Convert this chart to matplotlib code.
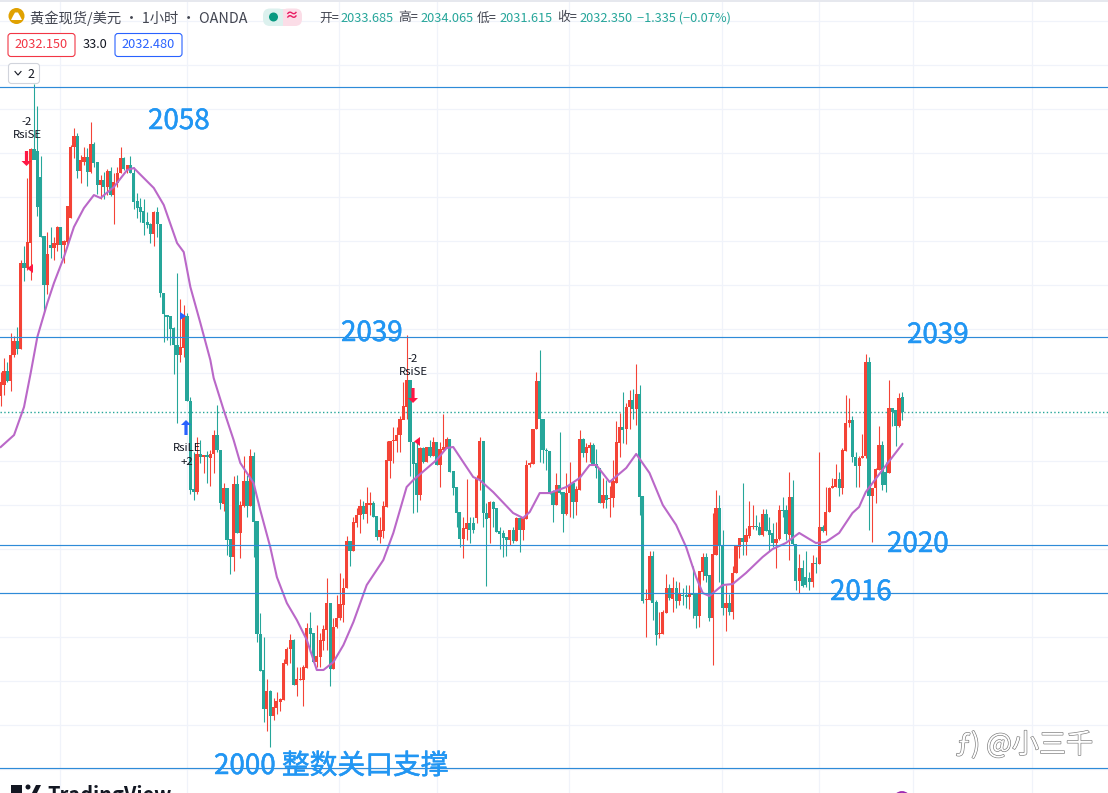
import matplotlib
matplotlib.use("Agg")
import matplotlib.pyplot as plt
import matplotlib.patheffects as pe
from matplotlib.patches import FancyBboxPatch, Circle, Polygon, Rectangle

plt.rcParams['font.family'] = ['Noto Sans CJK SC', 'DejaVu Sans']

opens = [
 2033.75,2034.72,2035.95,2035.07,2037.35,2038.58,2037.88,2045.42,2044.98,2047.17,
 2055.42,2055.24,2052.96,2047.79,2043.49,2047.00,2046.74,2047.00,2048.58,2047.00,
 2047.26,2049.37,2055.59,2056.56,2053.49,2054.28,2054.72,2053.40,2055.86,2054.28,
 2052.26,2052.70,2052.09,2053.49,2051.38,2052.44,2053.32,2054.63,2053.58,2054.02,
 2053.32,2050.86,2050.33,2049.98,2049.02,2048.84,2047.96,2049.89,2048.84,2042.79,
 2040.86,2040.77,2039.72,2038.23,2037.35,2037.97,2040.77,2033.31,2025.59,2025.33,
 2028.67,2028.40,2028.58,2028.32,2028.67,2030.33,2029.02,2024.28,2025.68,2021.21,
 2019.63,2026.03,2021.74,2024.10,2026.30,2024.10,2028.49,2022.79,2012.88,2009.72,
 2006.30,2007.87,2005.68,2006.38,2006.91,2007.09,2010.24,2011.56,2012.35,2008.40,
 2008.84,2008.84,2009.89,2013.40,2012.96,2010.42,2010.86,2012.26,2013.23,2015.59,
 2009.80,2013.49,2014.28,2015.42,2016.91,2021.03,2020.16,2022.61,2023.31,2024.10,
 2023.40,2024.19,2024.37,2023.23,2021.38,2021.91,2024.02,2028.05,2029.80,2029.80,
 2030.33,2031.65,2032.79,2035.16,2029.72,2027.88,2025.07,2029.19,2027.96,2029.28,
 2028.49,2029.72,2027.70,2029.02,2029.19,2029.98,2027.17,2025.77,2023.58,2021.21,
 2022.09,2022.61,2022.61,2023.05,2026.47,2029.80,2023.49,2023.05,2024.46,2023.93,
 2021.91,2021.74,2021.38,2021.12,2022.00,2021.03,2023.05,2022.00,2022.96,2027.70,
 2027.79,2030.86,2035.07,2031.74,2029.02,2028.93,2025.33,2024.19,2025.95,2025.33,
 2023.40,2025.24,2026.12,2024.46,2025.51,2029.98,2028.75,2029.19,2029.45,2027.79,
 2027.44,2024.37,2025.07,2024.72,2024.81,2026.12,2029.63,2031.03,2030.86,2032.79,
 2033.40,2032.61,2033.93,2024.98,2015.86,2015.86,2019.72,2015.68,2012.88,2012.88,
 2014.72,2016.91,2015.95,2016.91,2015.77,2016.30,2016.30,2016.12,2016.47,2016.47,
 2014.45,2018.31,2019.63,2018.05,2014.28,2019.80,2023.93,2020.59,2015.17,2015.59,
 2014.80,2018.23,2020.51,2021.30,2020.95,2021.47,2022.26,2022.35,2022.26,2021.56,
 2023.40,2022.00,2021.74,2020.86,2021.21,2023.75,2023.75,2021.56,2024.90,2020.77,
 2017.52,2018.66,2017.87,2017.79,2017.44,2019.10,2019.01,2022.26,2021.91,2023.58,
 2025.68,2025.77,2026.47,2025.68,2028.93,2031.38,2031.65,2028.40,2027.61,2028.32,
 2028.49,2036.73,2024.98,2025.68,2027.26,2029.45,2027.09,2027.00,2032.70,2032.53,
 2031.12,2033.685]

closes = [
 2034.98,2035.95,2035.07,2037.35,2038.58,2037.88,2045.42,2044.98,2047.26,2055.42,
 2054.45,2050.33,2047.70,2043.49,2046.21,2046.74,2047.17,2048.58,2047.00,2047.35,
 2050.42,2055.59,2056.56,2053.49,2054.45,2054.72,2053.40,2055.86,2054.19,2052.26,
 2052.70,2052.09,2053.49,2051.38,2052.52,2053.32,2054.63,2053.67,2054.02,2053.32,
 2050.77,2050.24,2049.89,2048.93,2048.75,2047.96,2049.89,2048.84,2042.79,2040.95,
 2040.68,2039.63,2038.23,2037.35,2038.05,2040.77,2033.31,2025.51,2025.33,2028.67,
 2028.40,2028.58,2028.40,2028.67,2030.33,2029.02,2024.37,2025.68,2021.12,2019.63,
 2026.03,2021.74,2024.19,2026.30,2024.10,2028.49,2022.70,2012.88,2009.63,2006.30,
 2007.87,2005.68,2006.47,2007.00,2007.17,2010.33,2011.56,2012.35,2008.40,2008.93,
 2008.93,2009.98,2013.40,2012.88,2010.42,2010.94,2012.35,2013.31,2015.59,2009.80,
 2013.49,2014.28,2015.51,2016.91,2021.03,2020.16,2022.70,2023.31,2024.10,2023.40,
 2024.37,2024.37,2023.14,2021.38,2022.00,2024.10,2028.14,2029.80,2029.89,2030.33,
 2031.74,2032.88,2035.16,2029.72,2027.79,2025.07,2029.19,2027.96,2029.28,2028.49,
 2029.72,2027.70,2029.10,2029.28,2029.98,2027.09,2025.68,2023.49,2021.21,2022.17,
 2022.61,2022.00,2022.00,2026.47,2029.80,2023.49,2022.96,2024.46,2023.84,2021.82,
 2021.65,2021.30,2021.12,2022.00,2021.03,2023.05,2022.00,2023.05,2027.70,2027.88,
 2030.86,2035.07,2031.74,2029.02,2028.93,2025.24,2024.19,2025.95,2025.24,2023.40,
 2025.24,2025.95,2024.46,2025.59,2029.98,2028.75,2029.28,2029.45,2027.79,2027.44,
 2024.37,2025.07,2024.63,2024.81,2026.30,2029.72,2031.03,2030.77,2032.79,2033.40,
 2032.61,2033.93,2024.90,2015.77,2015.95,2019.72,2015.59,2012.79,2012.96,2014.80,
 2016.91,2016.03,2016.91,2015.77,2016.47,2016.21,2016.12,2016.38,2016.30,2014.45,
 2018.40,2019.63,2017.96,2014.28,2019.89,2023.93,2020.59,2015.17,2015.59,2014.80,
 2018.23,2020.59,2021.30,2020.95,2021.56,2022.35,2022.35,2022.26,2021.56,2023.40,
 2021.91,2021.56,2020.86,2021.21,2023.75,2023.66,2021.65,2024.90,2020.77,2017.52,
 2018.66,2017.08,2017.17,2017.44,2019.10,2019.01,2022.26,2021.91,2023.58,2025.68,
 2025.86,2026.47,2025.68,2029.02,2031.38,2031.65,2028.40,2027.61,2028.32,2028.49,
 2036.73,2024.98,2025.68,2027.35,2029.45,2025.95,2025.95,2032.70,2032.35,2031.12,
 2033.58,2032.35]

highs = [
 2035.9,2037.1,2036.7,2039.3,2039.0,2039.8,2045.7,2046.9,2052.9,2055.5,
 2061.1,2059.2,2054.8,2047.8,2048.1,2048.6,2047.7,2048.7,2048.6,2047.4,
 2050.4,2055.8,2057.3,2056.8,2054.9,2055.6,2055.5,2057.8,2056.0,2054.3,
 2053.1,2053.4,2053.7,2053.8,2053.3,2053.8,2055.6,2054.7,2054.0,2054.8,
 2053.8,2051.6,2051.1,2051.0,2049.9,2048.9,2050.0,2050.3,2048.8,2042.8,
 2040.9,2040.8,2039.8,2044.5,2042.3,2041.7,2041.0,2033.7,2028.8,2030.2,
 2029.9,2028.6,2028.9,2029.0,2030.8,2033.0,2029.0,2026.1,2025.7,2021.2,
 2026.7,2026.8,2024.5,2028.5,2026.8,2029.1,2028.8,2022.8,2014.7,2012.6,
 2008.9,2008.0,2007.3,2007.8,2007.3,2010.7,2011.7,2012.9,2012.4,2010.0,
 2010.0,2010.2,2013.8,2014.8,2013.0,2013.7,2013.0,2013.7,2017.8,2015.6,
 2014.3,2016.3,2018.2,2017.8,2021.5,2021.0,2023.1,2023.9,2024.7,2024.5,
 2025.8,2025.3,2024.5,2023.2,2023.1,2024.5,2029.8,2029.8,2031.0,2031.0,
 2032.0,2035.0,2039.1,2035.2,2029.7,2029.7,2029.3,2029.3,2029.3,2029.9,
 2030.2,2029.7,2029.7,2032.2,2030.2,2030.0,2027.2,2025.8,2023.6,2023.1,
 2026.5,2023.1,2023.1,2026.8,2030.2,2029.8,2024.4,2024.5,2024.5,2023.9,
 2022.3,2022.0,2021.4,2022.0,2022.3,2023.1,2023.1,2023.1,2028.1,2028.0,
 2030.9,2035.9,2037.8,2031.7,2029.2,2028.9,2025.5,2027.0,2030.6,2025.3,
 2027.0,2028.0,2026.2,2025.9,2030.8,2030.1,2029.6,2029.7,2029.6,2029.1,
 2027.4,2026.6,2026.4,2025.9,2028.1,2031.6,2032.3,2034.1,2033.1,2034.3,
 2034.4,2036.6,2034.7,2025.0,2016.8,2020.2,2020.2,2015.9,2014.8,2015.0,
 2018.1,2017.3,2017.9,2017.5,2017.4,2016.9,2017.2,2017.2,2018.8,2016.5,
 2018.4,2020.0,2020.0,2018.0,2023.5,2025.5,2025.1,2022.0,2017.2,2016.4,
 2018.8,2020.6,2021.3,2026.1,2022.2,2024.5,2024.2,2023.3,2022.7,2023.8,
 2023.8,2023.1,2022.6,2022.7,2024.2,2024.9,2024.2,2027.1,2026.4,2020.8,
 2019.9,2019.4,2020.2,2018.3,2019.8,2019.6,2028.8,2022.4,2025.8,2025.8,
 2026.6,2027.8,2027.1,2029.2,2033.8,2033.6,2032.0,2028.8,2028.5,2030.4,
 2037.4,2037.2,2025.7,2027.4,2031.1,2029.8,2028.0,2035.2,2032.7,2032.5,
 2034.0,2034.065]

lows = [
 2032.9,2033.8,2035.0,2034.2,2037.2,2037.4,2037.9,2043.8,2044.8,2043.9,
 2054.5,2049.5,2047.7,2041.1,2042.7,2045.9,2045.7,2046.5,2045.9,2045.4,
 2047.0,2049.4,2054.6,2052.9,2052.4,2054.0,2052.2,2053.3,2053.8,2051.5,
 2051.0,2051.0,2051.4,2051.3,2048.8,2052.1,2053.3,2053.6,2053.3,2053.3,
 2050.2,2049.4,2049.0,2047.9,2048.5,2047.2,2046.9,2047.7,2042.4,2038.5,
 2038.7,2038.2,2035.7,2031.4,2036.7,2037.2,2033.3,2025.2,2024.6,2025.2,
 2027.9,2027.0,2026.1,2025.9,2027.0,2028.8,2023.8,2023.7,2019.8,2018.1,
 2018.4,2021.7,2019.5,2024.0,2023.1,2024.1,2019.6,2012.2,2009.6,2005.2,
 2004.4,2003.0,2005.3,2005.9,2006.1,2007.1,2010.2,2010.3,2008.4,2007.4,
 2008.8,2006.6,2009.9,2011.3,2010.4,2010.0,2010.0,2011.5,2011.5,2008.3,
 2009.8,2013.4,2014.1,2013.9,2016.9,2018.8,2020.2,2022.3,2021.7,2023.0,
 2022.6,2023.3,2023.1,2021.1,2020.9,2021.3,2024.0,2026.6,2027.9,2028.8,
 2028.8,2031.7,2031.7,2026.7,2023.5,2023.6,2024.6,2027.9,2028.0,2028.4,
 2028.5,2027.7,2025.8,2029.0,2029.2,2027.1,2025.1,2022.3,2020.5,2019.5,
 2021.1,2020.9,2021.7,2022.6,2025.5,2022.3,2017.1,2020.9,2022.3,2021.8,
 2020.3,2019.6,2019.7,2020.7,2020.9,2021.0,2020.1,2021.1,2023.0,2027.5,
 2027.8,2030.9,2028.0,2027.9,2027.3,2025.2,2022.7,2024.2,2025.2,2021.8,
 2023.3,2023.1,2023.05,2023.3,2025.5,2028.4,2028.0,2028.0,2027.7,2026.6,
 2024.4,2023.9,2023.9,2023.1,2024.0,2026.1,2028.4,2029.6,2029.5,2030.9,
 2031.7,2031.2,2023.3,2015.6,2012.6,2015.9,2014.1,2011.9,2012.5,2012.9,
 2014.7,2015.9,2014.8,2015.2,2015.4,2015.4,2015.2,2015.1,2014.3,2013.4,
 2013.5,2017.6,2017.4,2014.0,2010.2,2019.8,2017.4,2014.5,2013.1,2014.5,
 2014.2,2018.2,2019.5,2019.8,2019.8,2021.3,2022.1,2022.0,2021.6,2021.5,
 2021.9,2020.2,2020.5,2018.7,2021.1,2023.1,2021.1,2019.4,2020.7,2016.7,
 2016.5,2017.0,2017.0,2016.7,2017.0,2018.2,2019.0,2021.8,2021.6,2023.6,
 2025.7,2025.8,2025.0,2025.2,2028.9,2031.0,2028.0,2025.8,2025.8,2028.3,
 2028.3,2022.0,2020.95,2024.4,2027.3,2025.5,2025.3,2027.0,2031.1,2029.4,
 2031.0,2031.615]

ma_bar = [0,4,7,9,11,14,16,19,22,25,28,30,34,38,40,46,49,53,55,57,60,63,64,67,70,72,76,78,81,83,
          86,89,92,95,97,100,103,106,110,115,118,122,124,131,134,136,139,142,144,148,154,157,159,
          162,165,170,174,177,179,183,188,191,195,199,203,206,209,211,213,217,220,224,229,232,236,
          240,245,248,252,256,258,260,265,271]
ma_val = [2029.28,2030.33,2032.79,2035.77,2038.93,2041.91,2043.67,2045.95,2048.58,2050.24,2051.38,
          2051.12,2052.09,2053.58,2053.75,2052.00,2050.51,2047.17,2046.38,2043.31,2040.16,2036.91,
          2035.33,2032.53,2029.89,2027.88,2026.12,2023.75,2020.51,2017.87,2015.59,2014.10,2012.35,
          2009.72,2009.72,2010.42,2011.91,2013.93,2017.17,2019.37,2021.74,2025.77,2026.38,2028.14,
          2029.19,2029.28,2027.96,2026.65,2026.38,2025.33,2023.49,2023.05,2023.58,2025.24,2025.24,
          2025.77,2026.56,2027.70,2027.70,2026.21,2027.44,2028.67,2027.00,2024.19,2022.44,2020.51,
          2017.87,2016.47,2016.21,2017.17,2017.26,2018.23,2019.63,2020.33,2020.86,2021.74,2020.86,
          2020.95,2021.74,2023.49,2024.02,2025.33,2027.26,2029.54]

level_lines = [2060.86, 2038.97, 2020.65, 2016.47, 2001.12]
last_close = 2032.35

W, H = 1108, 793
RED, GREEN, BLUE, PURPLE = '#f44336', '#26a69a', '#2196f3', '#ba68c8'
LINE = '#2e8bd8'
BAR_PX, BAR0 = 3.327, 0.74
PX_PER_USD, Y_REF = 11.4, 412.0

fig = plt.figure(figsize=(W/100, H/100), dpi=100, facecolor='white')
ax = fig.add_axes([0, 0, 1, 1])
ax.set_xlim(-BAR0/BAR_PX, (W-BAR0)/BAR_PX)
ax.set_ylim(last_close-(H-Y_REF)/PX_PER_USD, last_close+Y_REF/PX_PER_USD)
ax.axis('off')

ov = fig.add_axes([0, 0, 1, 1], facecolor='none')
ov.set_xlim(0, W); ov.set_ylim(H, 0); ov.axis('off')

# grid
for gx in [60, 186.5, 339, 436.5, 569, 722, 818.5, 912.5, 1032]:
    ov.plot([gx, gx], [0, H], color='#f0f3fa', lw=0.9, zorder=0)
for gy in range(20, H, 44):
    ov.plot([0, W], [gy+.5, gy+.5], color='#f0f3fa', lw=0.9, zorder=0)
ov.add_patch(Rectangle((0, 0), W, 1.5, color='#e6e8ee', lw=0, zorder=0))
ov.set_zorder(0); ax.set_zorder(1); ax.patch.set_alpha(0)

# candles
n = len(closes)
bars = list(range(n))
cols = [RED if c >= o else GREEN for o, c in zip(opens, closes)]
ax.vlines(bars, lows, highs, colors=cols, lw=0.78, zorder=3)
min_h = 1.0/PX_PER_USD
bottoms = [min(o, c) for o, c in zip(opens, closes)]
heights = [max(abs(c-o), min_h) for o, c in zip(opens, closes)]
ax.bar(bars, heights, bottom=bottoms, width=0.96, color=cols, lw=0, zorder=4)

ax.plot(ma_bar, ma_val, color=PURPLE, lw=1.5, zorder=5, solid_joinstyle='round')
for v in level_lines:
    ax.axhline(v, color=LINE, lw=0.85, zorder=6)
ax.axhline(last_close, color=GREEN, lw=1.0, ls=(0, (1, 1.7)), zorder=2)

# top layer in pixels
top = fig.add_axes([0, 0, 1, 1], facecolor='none')
top.set_xlim(0, W); top.set_ylim(H, 0); top.axis('off'); top.set_zorder(2)

big = dict(color=BLUE, fontsize=20, va='center', ha='left', zorder=10,
           path_effects=[pe.withStroke(linewidth=0.35, foreground=BLUE)])
top.text(148, 121, '2058', **big)
top.text(341, 333, '2039', **big)
top.text(907, 335, '2039', **big)
top.text(887, 544, '2020', **big)
top.text(830, 592, '2016', **big)
top.text(214, 766, '2000 整数关口支撑', **big)

# header
top.add_patch(Circle((16.5, 16), 8, color='#e0a100', lw=0))
top.add_patch(Polygon([[11, 20], [22, 20], [20, 16], [18, 12.5], [15, 12.5], [13, 16]], color='white', lw=0))
top.text(30, 18, '黄金现货/美元 · 1小时 · OANDA', fontsize=10.3, color='#434651', va='center')
top.add_patch(FancyBboxPatch((263, 8.5), 22, 17.5, boxstyle='round,pad=0,rounding_size=7', color='#dcf1ee', lw=0))
top.add_patch(FancyBboxPatch((281, 8.5), 21, 17.5, boxstyle='round,pad=0,rounding_size=7', color='#fbdde7', lw=0))
top.add_patch(Rectangle((272, 8.5), 11, 17.5, color='#dcf1ee', lw=0))
top.add_patch(Rectangle((283, 8.5), 10, 17.5, color='#fbdde7', lw=0))
top.add_patch(Circle((273.5, 17), 4.5, color='#089981', lw=0))
top.text(291, 16.5, '≈', fontsize=10, color='#e91e63', ha='center', va='center', fontweight='bold')

hdr = [(319, '开=', '#434651'), (340.5, '2033.685', GREEN), (398.5, '高=', '#434651'), (420, '2034.065', GREEN),
       (477, '低=', '#434651'), (499, '2031.615', GREEN), (557, '收=', '#434651'), (579, '2032.350', GREEN),
       (637, '−1.335 (−0.07%)', GREEN)]
for x, s, c in hdr:
    top.text(x, 18, s, fontsize=9.2, color=c, va='center')

for x0, w, s, c in [(8, 67, '2032.150', '#f23645'), (115, 67, '2032.480', '#2962ff')]:
    top.add_patch(FancyBboxPatch((x0, 33.5), w, 23, boxstyle='round,pad=0,rounding_size=3',
                                 fc='white', ec=c, lw=0.8))
    top.text(x0+w/2, 45, s, fontsize=9.2, color=c, ha='center', va='center')
top.text(95, 45, '33.0', fontsize=9.2, color='#131722', ha='center', va='center')
top.add_patch(FancyBboxPatch((8.5, 63.5), 31, 20, boxstyle='round,pad=0,rounding_size=3',
                             fc='white', ec='#d1d4dc', lw=0.8, zorder=8))
top.plot([15, 18, 21], [71.5, 75, 71.5], color='#131722', lw=0.8, zorder=9)
top.text(31, 74, '2', fontsize=9, color='#131722', ha='center', va='center', zorder=9)

# strategy signals
def arrow(x, y0, y1, c):
    d = 1 if y1 > y0 else -1
    top.add_patch(Polygon([[x-1.6, y0], [x+1.6, y0], [x+1.6, y1-d*5], [x+5, y1-d*5], [x, y1], [x-5, y1-d*5], [x-1.6, y1-d*5]],
                          color=c, lw=0, zorder=9))
def tri(x0, x1, y0, y1, c):
    top.add_patch(Polygon([[x0, (y0+y1)/2], [x1, y0], [x1, y1]], color=c, lw=0, zorder=9))

SELL, BUY = '#ff1744', '#2962ff'
arrow(26.5, 151, 166, SELL)
arrow(413, 388, 403, SELL)
arrow(186, 435, 420, BUY)
tri(27, 33, 264, 273, SELL)
tri(414, 420, 437, 446, SELL)
tri(186, 180, 312, 320, BUY)
small = dict(fontsize=8.2, color='#131722', ha='center', va='center', zorder=10)
top.text(27, 122, '-2', **small); top.text(27, 135, 'RsiSE', **small)
top.text(413, 359, '-2', **small); top.text(413, 372, 'RsiSE', **small)
top.text(187, 448, 'RsiLE', **small); top.text(187, 462, '+2', **small)

# footer and watermark
top.add_patch(Polygon([[11, 793], [11, 785], [22, 785], [22, 793]], color='#131722', lw=0))
top.add_patch(Polygon([[32, 793], [36, 785], [41, 785], [37, 793]], color='#131722', lw=0))
top.add_patch(Circle((28, 787), 2.5, color='#131722', lw=0))
top.text(47, 796, 'TradingView', fontsize=14.4, color='#131722', fontweight='bold', va='center', ha='left', clip_on=True)
top.add_patch(Circle((902, 800), 8, fc='white', ec='#9c27b0', lw=1.3))
top.text(956, 745, 'ƒ) @小三千', fontsize=19.5, color='white', va='center', ha='left', zorder=12,
         path_effects=[pe.withStroke(linewidth=0.9, foreground='#777777')])

fig.savefig('out.png', dpi=100)
